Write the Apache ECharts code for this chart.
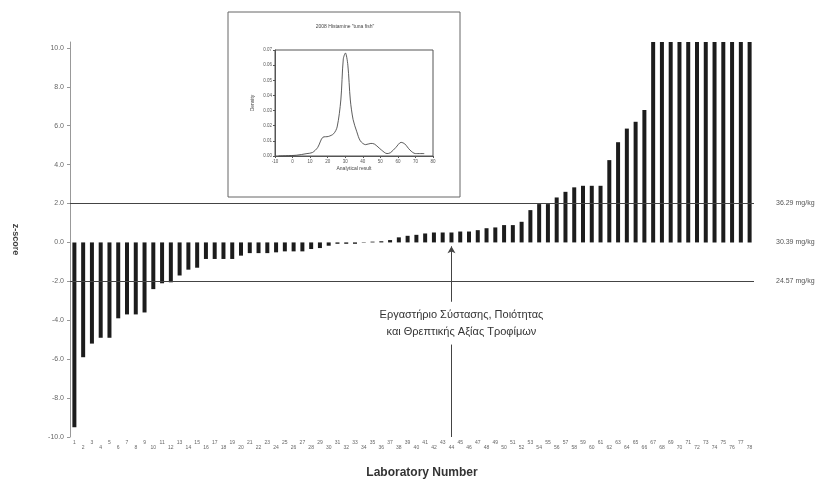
<!DOCTYPE html>
<html>
<head>
<meta charset="utf-8">
<title>z-score</title>
<script src="https://cdn.jsdelivr.net/npm/echarts@6/dist/echarts.min.js"></script>
<style>
  html, body { margin: 0; padding: 0; background: #fff; }
  #main { width: 840px; height: 485px; }
</style>
</head>
<body>
<div id="main"></div>
<script>
// laboratory codes (too small to read in the scan)
var labs = ['1','2','3','4','5','6','7','8','9','10','11','12','13','14','15','16','17','18','19','20',
  '21','22','23','24','25','26','27','28','29','30','31','32','33','34','35','36','37','38','39','40',
  '41','42','43','44','45','46','47','48','49','50','51','52','53','54','55','56','57','58','59','60',
  '61','62','63','64','65','66','67','68','69','70','71','72','73','74','75','76','77','78'];

// z-score of every lab, sorted
var zScores = [-9.5, -5.9, -5.2, -4.9, -4.9, -3.9, -3.7, -3.7, -3.6, -2.4,
  -2.1, -2.05, -1.7, -1.4, -1.3, -0.85, -0.85, -0.85, -0.85, -0.68,
  -0.55, -0.55, -0.55, -0.51, -0.46, -0.46, -0.46, -0.34, -0.29, -0.17,
  -0.07, -0.07, -0.07, 0.02, 0.04, 0.06, 0.12, 0.26, 0.34, 0.39,
  0.46, 0.51, 0.51, 0.51, 0.56, 0.56, 0.63, 0.73, 0.77, 0.89,
  0.89, 1.06, 1.66, 1.97, 1.97, 2.31, 2.6, 2.83, 2.91, 2.91,
  2.91, 4.23, 5.15, 5.85, 6.2, 6.8, 10.3, 10.3, 10.3, 10.3,
  10.3, 10.3, 10.3, 10.3, 10.3, 10.3, 10.3, 10.3];

// reference lines (z = 2, 0, -2) and their concentration labels
var refZ = [2, 0, -2];
var refLabels = ['36.29 mg/kg', '30.39 mg/kg', '24.57 mg/kg'];

// y axis range
var yMin = -10, yMax = 10.3, yStep = 2;

// the lab pointed at by the arrow
var ownLab = 43;
var ownText = 'Εργαστήριο Σύστασης, Ποιότητας\nκαι Θρεπτικής Αξίας Τροφίμων';

// inset: kernel density of the results
var insetTitle = '2008 Histamine "tuna fish"';
var densityX = [-8, 2.1, 8.2, 11.3, 14.3, 17.3, 20.4, 23.4, 25.4, 27.5, 28.9, 30.1, 31.5, 32.9, 34.5,
  36.6, 38.6, 41.6, 44.6, 46.6, 50.7, 53.8, 55.8, 58.8, 61.8, 63.9, 66.9, 70, 75];
var densityY = [0.0, 0.0005, 0.0016, 0.0023, 0.0056, 0.0124, 0.0129, 0.0147, 0.0192, 0.037, 0.064, 0.068, 0.060, 0.037, 0.024,
  0.016, 0.010, 0.0075, 0.0083, 0.0079, 0.0039, 0.0016, 0.0022, 0.0056, 0.009, 0.008, 0.0039, 0.0016, 0.0016];

var FONT = "'Liberation Sans', Arial, sans-serif";
var chart = echarts.init(document.getElementById('main'));

var refLines = refZ.map(function (z, i) {
  return {
    yAxis: z,
    label: { show: true, position: 'end', distance: 22, formatter: refLabels[i], fontSize: 7, color: '#555', fontFamily: FONT },
    lineStyle: { color: z === 0 ? 'rgba(0,0,0,0)' : '#444', width: 1, type: 'solid' }
  };
});

chart.setOption({
  animation: false,
  textStyle: { fontFamily: FONT },
  grid: [
    { left: 70, top: 42, width: 684, height: 395 },
    { left: 275, top: 50, width: 158, height: 106, show: true, borderColor: '#555', borderWidth: 1, backgroundColor: '#fff' }
  ],
  xAxis: [{
    gridIndex: 0,
    type: 'category',
    data: labs,
    name: 'Laboratory Number',
    nameLocation: 'middle',
    nameGap: 30,
    nameTextStyle: { fontSize: 12, fontWeight: 'bold', color: '#333', padding: [0, 0, 0, 20] },
    axisLine: { show: false, onZero: false },
    axisTick: { show: false },
    axisLabel: {
      interval: 0, fontSize: 5, color: '#666', margin: 3,
      formatter: function (v, i) { return i % 2 ? '\n' + v : v; }
    }
  }, {
    gridIndex: 1,
    type: 'value',
    min: -10, max: 80, interval: 10,
    name: 'Analytical result',
    nameLocation: 'middle',
    nameGap: 10,
    nameTextStyle: { fontSize: 5, color: '#444' },
    axisLine: { onZero: false, lineStyle: { color: '#555' } },
    axisTick: { length: 2, lineStyle: { color: '#555' } },
    axisLabel: { fontSize: 4.5, color: '#555', margin: 3 },
    splitLine: { show: false }
  }],
  yAxis: [{
    gridIndex: 0,
    type: 'value',
    min: yMin, max: yMax, interval: yStep,
    name: 'z-score',
    nameLocation: 'middle',
    nameRotate: -90,
    nameGap: 50,
    nameTextStyle: { fontSize: 9, fontWeight: 'bold', color: '#444' },
    axisLine: { show: true, lineStyle: { color: '#999' } },
    axisTick: { show: true, length: 3, lineStyle: { color: '#999' } },
    axisLabel: {
      fontSize: 7, color: '#666', margin: 6, showMaxLabel: false,
      formatter: function (v) { return v.toFixed(1); }
    },
    splitLine: { show: false }
  }, {
    gridIndex: 1,
    type: 'value',
    min: 0, max: 0.07, interval: 0.01,
    name: 'Density',
    nameLocation: 'middle',
    nameGap: 20,
    nameTextStyle: { fontSize: 5, color: '#444' },
    axisLine: { onZero: false, lineStyle: { color: '#555' } },
    axisTick: { length: 2, lineStyle: { color: '#555' } },
    axisLabel: { fontSize: 4.5, color: '#555', margin: 3, formatter: function (v) { return v.toFixed(2); } },
    splitLine: { show: false }
  }],
  series: [{
    type: 'bar',
    xAxisIndex: 0,
    yAxisIndex: 0,
    data: zScores,
    barWidth: 4,
    itemStyle: { color: '#1c1c1c' },
    markLine: {
      silent: true,
      symbol: ['none', 'none'],
      data: refLines.concat([
        [
          { coord: [ownLab, yMin], symbol: 'none' },
          { coord: [ownLab, -5.25], symbol: 'none' }
        ],
        [
          { coord: [ownLab, -3.05], symbol: 'none' },
          { coord: [ownLab, -0.2], symbol: 'arrow', symbolSize: [6, 7] }
        ]
      ]).map(function (d) {
        if (Array.isArray(d)) {
          d[0].label = { show: false };
          d[0].lineStyle = { color: '#444', width: 1, type: 'solid' };
        }
        return d;
      })
    }
  }, {
    type: 'line',
    xAxisIndex: 1,
    yAxisIndex: 1,
    data: densityX.map(function (x, i) { return [x, densityY[i]]; }),
    smooth: 0.3,
    showSymbol: false,
    lineStyle: { color: '#333', width: 0.8 }
  }]
});

// text next to the arrow and the frame round the inset
var p = chart.convertToPixel({ xAxisIndex: 0, yAxisIndex: 0 }, [ownLab, -4.15]);
chart.setOption({
  graphic: [{
    type: 'rect',
    z: -1,
    shape: { x: 228, y: 12, width: 232, height: 185 },
    style: { fill: '#fff', stroke: '#666', lineWidth: 1 }
  }, {
    type: 'text',
    x: 345, y: 24,
    style: { text: insetTitle, fontSize: 5, fill: '#444', textAlign: 'center', fontFamily: FONT }
  }, {
    type: 'text',
    x: p[0] + 10, y: p[1],
    style: {
      text: ownText, fontSize: 11, lineHeight: 17, fill: '#333',
      textAlign: 'center', textVerticalAlign: 'middle', fontFamily: FONT
    }
  }]
});
</script>
</body>
</html>
